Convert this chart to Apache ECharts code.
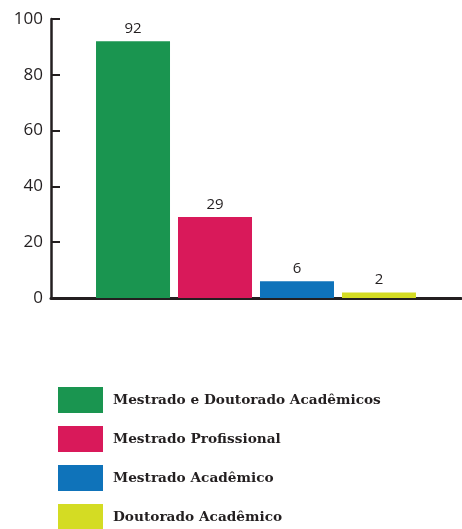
<!DOCTYPE html>
<html><head><meta charset="utf-8">
<script src="https://cdn.jsdelivr.net/npm/echarts@6/dist/echarts.min.js"></script>
<style>html,body{margin:0;padding:0;background:#fff}#c{width:462px;height:529px}</style>
</head><body><div id="c"></div>
<script>
const categories = [''];
const seriesNames = ['Mestrado e Doutorado Acadêmicos','Mestrado Profissional','Mestrado Acadêmico','Doutorado Acadêmico'];
const seriesValues = [92, 29, 6, 2];
const seriesColors = ['#1a9550','#d9195a','#0f73ba','#d4dc23'];
const yTicks = [0, 20, 40, 60, 80, 100];

const chart = echarts.init(document.getElementById('c'));
const ink = '#231f20';
chart.setOption({
  animation: false,
  grid: {left: 51, right: 1, top: 19, bottom: 231},
  legend: {
    orient: 'vertical', left: 58, top: 387, height: 200, padding: 0,
    itemWidth: 45, itemHeight: 26, itemGap: 13,
    icon: 'rect', data: seriesNames,
    textStyle: {fontFamily: 'DejaVu Serif', fontWeight: 'bold', fontSize: 13.7, color: ink, padding: [5,0,0,5]}
  },
  xAxis: {
    type: 'category', data: categories,
    axisLine: {lineStyle: {color: ink, width: 3}},
    axisTick: {inside: true, length: 6, lineStyle: {color: ink, width: 2}},
    axisLabel: {show: false}
  },
  yAxis: {
    type: 'value', min: yTicks[0], max: yTicks[yTicks.length-1], interval: 20,
    splitLine: {show: false},
    axisLine: {show: true, lineStyle: {color: ink, width: 2.5}},
    axisTick: {show: true, inside: true, length: 9, lineStyle: {color: ink, width: 2}},
    axisLabel: {color: ink, fontFamily: 'Open Sans', fontSize: 17, margin: 8}
  },
  series: seriesNames.map((n, i) => ({
    name: n, type: 'bar', barWidth: 74, barGap: '10.8%',
    data: [seriesValues[i]],
    itemStyle: {color: seriesColors[i]},
    label: {show: true, position: 'top', distance: 5, color: ink, fontFamily: 'Open Sans', fontSize: 15}
  }))
});
</script></body></html>
